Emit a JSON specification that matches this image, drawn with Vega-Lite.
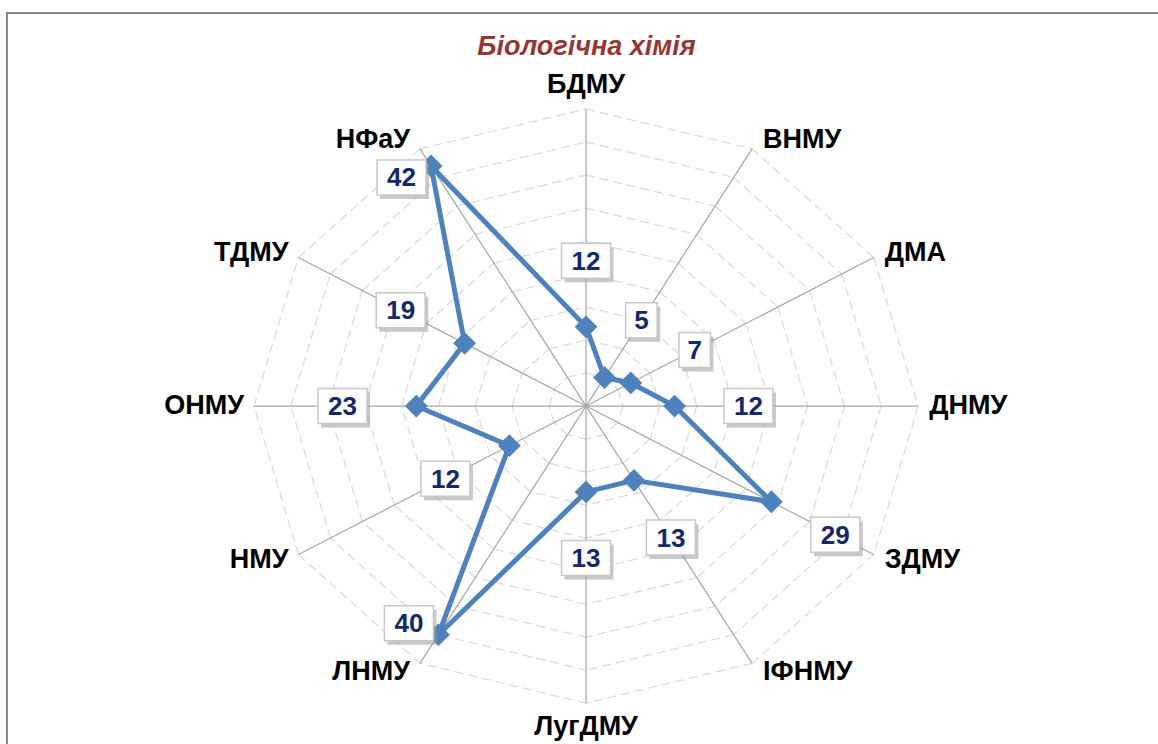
{
  "$schema": "https://vega.github.io/schema/vega-lite/v6.json",
  "width": 1153,
  "height": 733,
  "autosize": "none",
  "padding": {"left": 7, "top": 13, "right": 0, "bottom": 0},
  "background": "white",
  "config": {"view": {"stroke": "#888888", "strokeWidth": 2}, "font": "Liberation Sans"},
  "title": {"text": "Біологічна хімія", "fontSize": 27, "fontStyle": "italic", "fontWeight": "bold", "color": "#953735", "anchor": "middle", "offset": -48, "dx": 3, "font": "Liberation Sans"},
  "data": {"values": [
    {"school": "БДМУ", "value": 12},
    {"school": "ВНМУ", "value": 5},
    {"school": "ДМА", "value": 7},
    {"school": "ДНМУ", "value": 12},
    {"school": "ЗДМУ", "value": 29},
    {"school": "ІФНМУ", "value": 13},
    {"school": "ЛугДМУ", "value": 13},
    {"school": "ЛНМУ", "value": 40},
    {"school": "НМУ", "value": 12},
    {"school": "ОНМУ", "value": 23},
    {"school": "ТДМУ", "value": 19},
    {"school": "НФаУ", "value": 42}
  ]},
  "transform": [
    {"window": [{"op": "row_number", "as": "i"}]},
    {"calculate": "(datum.i - 1) * PI / 6", "as": "a"},
    {"calculate": "datum.value * sin(datum.a)", "as": "px"},
    {"calculate": "datum.value * cos(datum.a)", "as": "py"},
    {"calculate": "datum.value >= 35 ? datum.value - 2 : datum.value + 10", "as": "lr"},
    {"calculate": "datum.lr * sin(datum.a) - (datum.value >= 35 ? 5 : 0)", "as": "lx"},
    {"calculate": "datum.lr * cos(datum.a)", "as": "ly"}
  ],
  "layer": [
    {
      "transform": [
        {"calculate": "[5,10,15,20,25,30,35,40,45]", "as": "lv"},
        {"flatten": ["lv"]},
        {"calculate": "datum.lv * sin(datum.a)", "as": "rx"},
        {"calculate": "datum.lv * cos(datum.a)", "as": "ry"},
        {"calculate": "datum.lv * sin(datum.a + PI / 6)", "as": "rx2"},
        {"calculate": "datum.lv * cos(datum.a + PI / 6)", "as": "ry2"}
      ],
      "mark": {"type": "rule", "color": "#D9D9D9", "strokeWidth": 1.2, "strokeDash": [9, 5]},
      "encoding": {
        "x": {"field": "rx", "type": "quantitative", "scale": {"domain": [-78.46, 77.77], "nice": false, "zero": false}, "axis": null},
        "y": {"field": "ry", "type": "quantitative", "scale": {"domain": [-51.5, 59.55], "nice": false, "zero": false}, "axis": null},
        "x2": {"field": "rx2"},
        "y2": {"field": "ry2"}
      }
    },
    {
      "transform": [
        {"calculate": "45 * sin(datum.a)", "as": "sx"},
        {"calculate": "45 * cos(datum.a)", "as": "sy"},
        {"calculate": "0", "as": "z"}
      ],
      "mark": {"type": "rule", "color": "#A6A6A6", "strokeWidth": 1.2},
      "encoding": {
        "x": {"field": "z", "type": "quantitative", "scale": {"domain": [-78.46, 77.77], "nice": false, "zero": false}, "axis": null},
        "y": {"field": "z", "type": "quantitative", "scale": {"domain": [-51.5, 59.55], "nice": false, "zero": false}, "axis": null},
        "x2": {"field": "sx"},
        "y2": {"field": "sy"}
      }
    },
    {
      "mark": {"type": "line", "color": "#4F81BD", "strokeWidth": 5, "interpolate": "linear-closed", "strokeJoin": "round"},
      "encoding": {
        "x": {"field": "px", "type": "quantitative", "scale": {"domain": [-78.46, 77.77], "nice": false, "zero": false}, "axis": null},
        "y": {"field": "py", "type": "quantitative", "scale": {"domain": [-51.5, 59.55], "nice": false, "zero": false}, "axis": null},
        "order": {"field": "i", "type": "quantitative"}
      }
    },
    {
      "mark": {"type": "point", "shape": "diamond", "filled": true, "color": "#4F81BD", "size": 520, "opacity": 1},
      "encoding": {
        "x": {"field": "px", "type": "quantitative", "scale": {"domain": [-78.46, 77.77], "nice": false, "zero": false}, "axis": null},
        "y": {"field": "py", "type": "quantitative", "scale": {"domain": [-51.5, 59.55], "nice": false, "zero": false}, "axis": null}
      }
    },
    {
      "mark": {"type": "point", "filled": true, "color": "#9A9A9A", "opacity": 0.55, "size": 1225, "xOffset": 3, "yOffset": 4},
      "encoding": {
        "x": {"field": "lx", "type": "quantitative", "scale": {"domain": [-78.46, 77.77], "nice": false, "zero": false}, "axis": null},
        "y": {"field": "ly", "type": "quantitative", "scale": {"domain": [-51.5, 59.55], "nice": false, "zero": false}, "axis": null},
        "shape": {"condition": {"test": "datum.value >= 10", "value": "M-1.4,-1H1.4V1H-1.4Z"}, "value": "M-0.9,-1H0.9V1H-0.9Z"}
      }
    },
    {
      "mark": {"type": "point", "filled": false, "fill": "white", "fillOpacity": 1, "stroke": "#C8C8C8", "strokeWidth": 1.5, "opacity": 1, "size": 1225},
      "encoding": {
        "x": {"field": "lx", "type": "quantitative", "scale": {"domain": [-78.46, 77.77], "nice": false, "zero": false}, "axis": null},
        "y": {"field": "ly", "type": "quantitative", "scale": {"domain": [-51.5, 59.55], "nice": false, "zero": false}, "axis": null},
        "shape": {"condition": {"test": "datum.value >= 10", "value": "M-1.4,-1H1.4V1H-1.4Z"}, "value": "M-0.9,-1H0.9V1H-0.9Z"}
      }
    },
    {
      "mark": {"type": "text", "font": "Liberation Sans", "fontSize": 26, "fontWeight": "bold", "color": "#13296B", "align": "center", "baseline": "middle", "dy": 1},
      "encoding": {
        "x": {"field": "lx", "type": "quantitative", "scale": {"domain": [-78.46, 77.77], "nice": false, "zero": false}, "axis": null},
        "y": {"field": "ly", "type": "quantitative", "scale": {"domain": [-51.5, 59.55], "nice": false, "zero": false}, "axis": null},
        "text": {"field": "value", "type": "quantitative"}
      }
    },
    {
      "transform": [
        {"filter": "sin(datum.a) > 0.01"},
        {"calculate": "45 * sin(datum.a)", "as": "cx"},
        {"calculate": "46.5 * cos(datum.a)", "as": "cy"}
      ],
      "mark": {"type": "text", "font": "Liberation Sans", "fontSize": 27, "fontWeight": "bold", "color": "#000000", "align": "left", "baseline": "middle", "dx": 11},
      "encoding": {
        "x": {"field": "cx", "type": "quantitative", "scale": {"domain": [-78.46, 77.77], "nice": false, "zero": false}, "axis": null},
        "y": {"field": "cy", "type": "quantitative", "scale": {"domain": [-51.5, 59.55], "nice": false, "zero": false}, "axis": null},
        "text": {"field": "school", "type": "nominal"}
      }
    },
    {
      "transform": [
        {"filter": "sin(datum.a) < -0.01"},
        {"calculate": "45 * sin(datum.a)", "as": "cx"},
        {"calculate": "46.5 * cos(datum.a)", "as": "cy"}
      ],
      "mark": {"type": "text", "font": "Liberation Sans", "fontSize": 27, "fontWeight": "bold", "color": "#000000", "align": "right", "baseline": "middle", "dx": -10},
      "encoding": {
        "x": {"field": "cx", "type": "quantitative", "scale": {"domain": [-78.46, 77.77], "nice": false, "zero": false}, "axis": null},
        "y": {"field": "cy", "type": "quantitative", "scale": {"domain": [-51.5, 59.55], "nice": false, "zero": false}, "axis": null},
        "text": {"field": "school", "type": "nominal"}
      }
    },
    {
      "transform": [
        {"filter": "abs(sin(datum.a)) <= 0.01"},
        {"calculate": "0", "as": "cx"},
        {"calculate": "48.6 * cos(datum.a)", "as": "cy"}
      ],
      "mark": {"type": "text", "font": "Liberation Sans", "fontSize": 27, "fontWeight": "bold", "color": "#000000", "align": "center", "baseline": "middle"},
      "encoding": {
        "x": {"field": "cx", "type": "quantitative", "scale": {"domain": [-78.46, 77.77], "nice": false, "zero": false}, "axis": null},
        "y": {"field": "cy", "type": "quantitative", "scale": {"domain": [-51.5, 59.55], "nice": false, "zero": false}, "axis": null},
        "text": {"field": "school", "type": "nominal"}
      }
    }
  ]
}
